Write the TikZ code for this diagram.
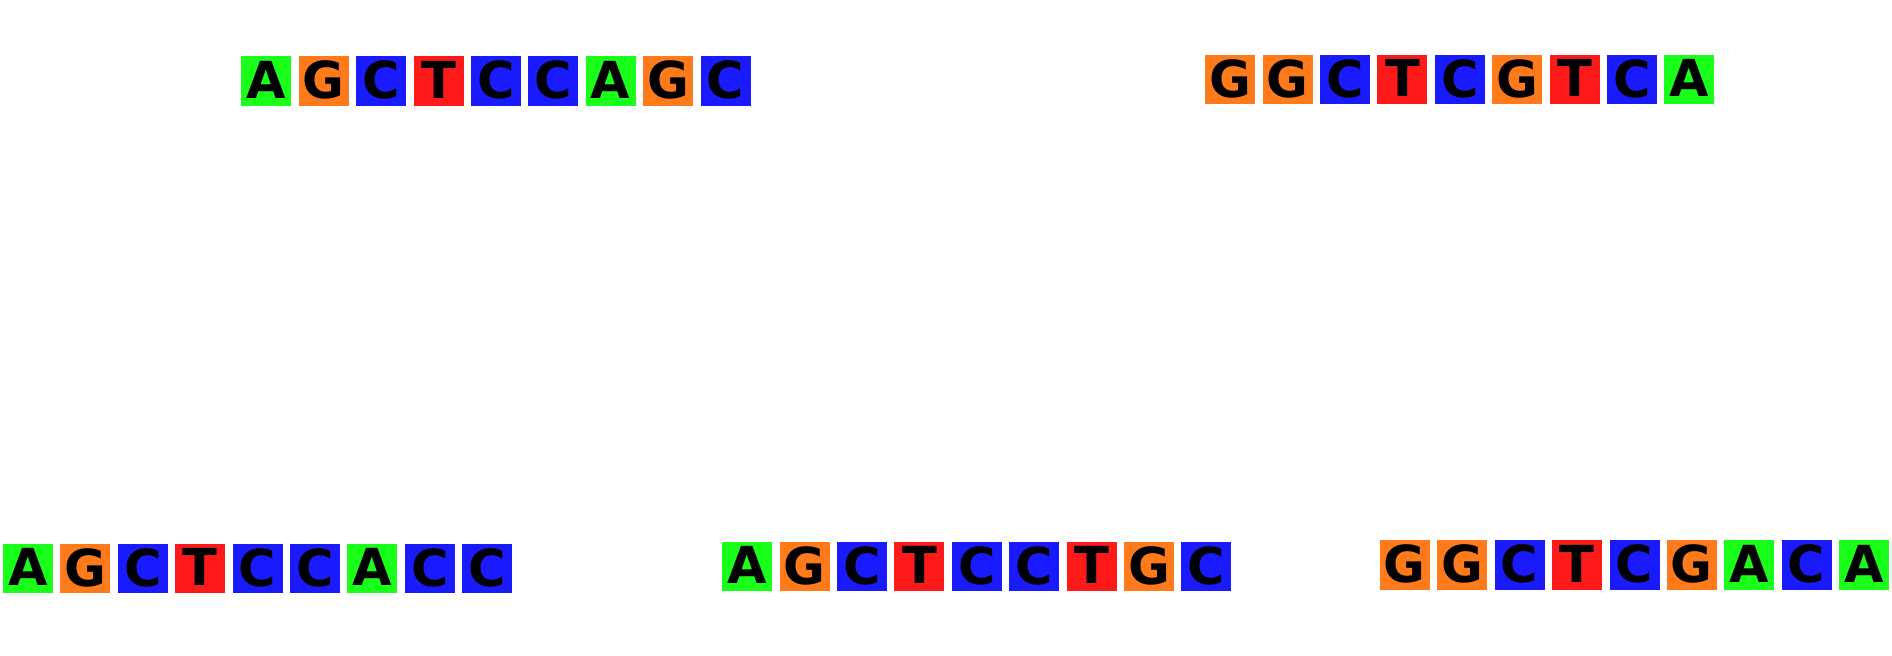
\documentclass[tikz,border=0pt]{standalone}
\usepackage{fontspec}
\setmainfont{DejaVu Sans}
\definecolor{nA}{RGB}{25,255,25}
\definecolor{nG}{RGB}{255,122,26}
\definecolor{nC}{RGB}{26,26,255}
\definecolor{nT}{RGB}{255,26,26}
\newcommand\dnarow[4]{%
  \foreach \base [count=\i from 0] in {#4} {%
    \node[nuc, fill=n\base] (#1-\i) at ({#2+25+\i*57.4},{#3+24.75}) {\raisebox{1pt}{\base}};
  }%
}
\begin{document}
\begin{tikzpicture}[x=0.5pt,y=-0.5pt,
  nuc/.style={minimum width=25pt, minimum height=24.75pt, inner sep=0pt,
    font=\fontsize{25.5}{25.5}\selectfont\bfseries, text=black}]
\useasboundingbox (0,0) rectangle (1892,655);
\dnarow{r1}{241.3}{56}{A,G,C,T,C,C,A,G,C}
\dnarow{r2}{1205.2}{54.5}{G,G,C,T,C,G,T,C,A}
\dnarow{r3}{3}{543.5}{A,G,C,T,C,C,A,C,C}
\dnarow{r4}{722.2}{541.5}{A,G,C,T,C,C,T,G,C}
\dnarow{r5}{1379.9}{540}{G,G,C,T,C,G,A,C,A}
\end{tikzpicture}
\end{document}
